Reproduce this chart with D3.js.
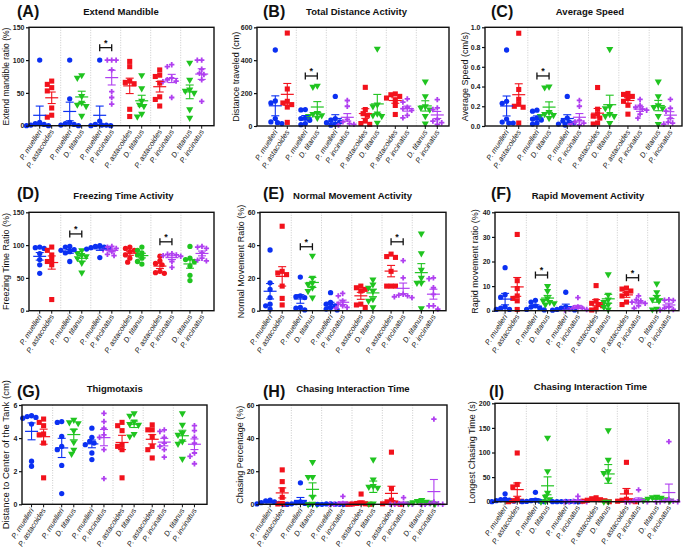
<!DOCTYPE html>
<html>
<head>
<meta charset="utf-8">
<script src="https://cdn.jsdelivr.net/npm/d3@7"></script>
<style>
body { margin: 0; background: #fff; }
svg { display: block; }
text { font-family: "Liberation Sans", Arial, sans-serif; }
</style>
</head>
<body>
<div id="chart"></div>
<script>
var width = 684;
var height = 547;

// six pairwise comparisons, two species each
var groupNames = ["P. muelleri", "P. astacoides", "P. muelleri", "D. titanus", "P. muelleri", "P. incinatus",
	"P. astacoides", "D. titanus", "P. astacoides", "P. incinatus", "D. titanus", "P. incinatus"];

var colors = {"P. muelleri": "#0b30f2", "P. astacoides": "#f2121c", "D. titanus": "#20c420", "P. incinatus": "#b03ff0"};

// values (n = 7)
var extendMandible = [
	[100, 2, 0, 5, 0, 1, 3], [68, 63, 58, 53, 27, 16, 13],
	[100, 41, 5, 3, 2, 0, 1], [77, 73, 45, 35, 32, 30, 15],
	[100, 7, 2, 0, 1, 0, 1], [100, 100, 100, 85, 52, 43, 33],
	[98, 90, 68, 66, 64, 25, 14], [77, 57, 38, 32, 30, 18, 14],
	[85, 77, 75, 65, 44, 40, 30], [93, 90, 73, 70, 68, 67, 43],
	[96, 70, 55, 53, 50, 25, 12], [100, 100, 86, 80, 78, 70, 37]];

var totalDistance = [
	[462, 152, 140, 45, 25, 20, 15], [565, 225, 150, 140, 130, 115, 22],
	[100, 98, 48, 45, 35, 15, 8], [245, 238, 78, 72, 65, 60, 50],
	[180, 45, 35, 25, 20, 10, 5], [155, 120, 40, 25, 15, 10, 5],
	[235, 100, 75, 65, 30, 15, 10], [470, 130, 120, 75, 65, 60, 20],
	[195, 190, 180, 170, 155, 125, 70], [165, 145, 115, 105, 95, 65, 50],
	[270, 180, 120, 110, 100, 60, 15], [160, 110, 100, 40, 30, 20, 10]];

var averageSpeed = [
	[0.77, 0.25, 0.23, 0.07, 0.04, 0.03, 0.03], [0.94, 0.37, 0.27, 0.22, 0.20, 0.19, 0.03],
	[0.16, 0.15, 0.08, 0.07, 0.06, 0.03, 0.02], [0.40, 0.39, 0.14, 0.12, 0.11, 0.10, 0.08],
	[0.30, 0.08, 0.05, 0.04, 0.03, 0.02, 0.01], [0.26, 0.20, 0.06, 0.04, 0.03, 0.02, 0.01],
	[0.39, 0.17, 0.12, 0.10, 0.08, 0.03, 0.02], [0.78, 0.20, 0.18, 0.12, 0.10, 0.10, 0.03],
	[0.33, 0.32, 0.30, 0.28, 0.25, 0.21, 0.12], [0.27, 0.21, 0.19, 0.17, 0.16, 0.12, 0.08],
	[0.45, 0.30, 0.21, 0.19, 0.18, 0.10, 0.02], [0.27, 0.18, 0.15, 0.08, 0.04, 0.03, 0.02]];

var freezingTime = [
	[97, 96, 95, 87, 78, 70, 57], [97, 92, 85, 78, 75, 70, 17],
	[98, 97, 93, 92, 90, 88, 75], [92, 88, 85, 83, 80, 73, 58],
	[99, 98, 97, 96, 95, 94, 81], [98, 97, 95, 93, 90, 86, 84],
	[97, 95, 92, 90, 85, 80, 74], [97, 92, 88, 85, 80, 75, 71],
	[83, 76, 72, 70, 60, 58, 57], [87, 86, 85, 84, 83, 75, 66],
	[98, 80, 78, 75, 68, 54, 46], [98, 97, 95, 88, 80, 77, 76]];

var normalMovement = [
	[37, 17, 13, 8, 4, 3, 1], [51.5, 24, 23, 22, 15, 7.5, 3.5],
	[20.5, 9, 8.5, 8, 2, 1.5, 0.5], [33.5, 20, 17, 16, 14, 12, 8],
	[11, 5, 4, 3, 2, 1, 0.5], [10.5, 9, 6, 4, 3, 2, 1.5],
	[15, 14, 13, 12, 4, 3.5, 2], [19, 16, 14, 12, 7, 6, 2],
	[34.5, 33, 32.5, 24, 15, 15, 15], [30.5, 20, 10, 9.5, 9, 8.5, 8],
	[47, 35, 25, 20, 17, 17, 1.5], [20, 19.5, 14, 10, 3, 3, 1]];

var rapidMovement = [
	[17.5, 6.5, 5.5, 1.5, 1, 0.5, 0.5], [31, 12.2, 9, 6, 5, 4, 0.5],
	[4.2, 3.5, 2, 1.5, 1, 0.5, 0.3], [10, 8, 5, 4, 3.5, 3, 2.5],
	[7.5, 1.5, 1, 0.8, 0.5, 0.3, 0.2], [5.3, 1.5, 1.2, 1, 0.8, 0.5, 0.3],
	[10.2, 4, 3, 2.5, 2, 0.8, 0.3], [14.8, 6.5, 4.5, 3.5, 2.5, 1.5, 0.5],
	[9.2, 8.8, 8, 7, 6, 3.5, 2.5], [6, 4.5, 4, 3.5, 3, 2, 1],
	[11, 7.5, 5.5, 4.5, 4, 0.8, 0.5], [4.5, 4.3, 4.2, 1.5, 1, 0.5, 0.3]];

var thigmotaxis = [
	[5.35, 5.3, 5.25, 5.2, 4.85, 2.6, 2.3], [5.15, 4.95, 4.75, 4.25, 4.2, 3.7, 1.6],
	[5.0, 4.95, 4.1, 3.5, 3.3, 2.35, 0.65], [5.1, 4.95, 4.9, 4.45, 3.75, 3.3, 3.05],
	[4.6, 4.05, 3.8, 3.7, 3.6, 3.1, 2.7], [5.5, 5.0, 4.6, 4.2, 4.05, 3.3, 1.55],
	[4.95, 4.75, 4.45, 3.6, 3.5, 3.3, 1.6], [5.5, 5.35, 5.0, 4.85, 4.8, 4.25, 4.1],
	[4.8, 4.5, 4.5, 4.1, 3.5, 3.3, 2.8], [4.5, 4.4, 4.05, 3.7, 3.5, 3.3, 2.85],
	[5.5, 4.8, 4.3, 4.2, 3.8, 3.65, 2.75], [4.75, 4.45, 4.05, 3.7, 3.1, 2.9, 2.45]];

var chasingPercentage = [
	[2.5, 2, 1.5, 1, 0.5, 0.2, 0], [20.8, 13.7, 8.8, 4.2, 0.5, 0.2, 0],
	[13, 1.5, 1, 0.5, 0.3, 0, 0], [25.5, 16.5, 16.5, 4.5, 0.3, 0, 0],
	[0.3, 0.2, 0.1, 0, 0, 0, 0], [4.8, 0.5, 0.3, 0.2, 0, 0, 0],
	[6.2, 0.8, 0.5, 0.3, 0.2, 0, 0], [27, 15, 11, 10.5, 10, 0.5, 0.3],
	[31.5, 9.5, 2.5, 1.5, 0.8, 0.3, 0], [4, 0.5, 0.3, 0.2, 0, 0, 0],
	[2.5, 2, 1.5, 1.2, 1, 0.5, 0.3], [51.5, 1.5, 0.5, 0.3, 0, 0, 0]];

var longestChasing = [
	[16, 5, 4, 3, 2, 1, 0], [99, 35, 30, 5, 2, 1, 0],
	[19, 3, 2, 1, 0.5, 0, 0], [130, 62, 18, 10, 5, 1, 0],
	[0.5, 0.3, 0.2, 0, 0, 0, 0], [11, 2, 1, 0.5, 0, 0, 0],
	[8, 6, 4, 3, 2, 1, 0], [145, 85, 62, 58, 45, 0, 0],
	[80, 20, 5, 3, 2, 1, 0], [24, 3, 2, 1, 0, 0, 0],
	[10, 9, 8, 6, 5, 3, 2], [122, 5, 2, 1, 0, 0, 0]];

// tick values
var ticks150 = [0, 50, 100, 150];
var ticks600 = [0, 200, 400, 600];
var ticksSpeed = [0, 0.2, 0.4, 0.6, 0.8, 1.0];
var ticks60 = [0, 20, 40, 60];
var ticks40 = [0, 10, 20, 30, 40];
var ticks6 = [0, 2, 4, 6];
var ticks200 = [0, 50, 100, 150, 200];

// significant pairs: [pair index, bracket height]
var starsA = [[2, 119]];
var starsB = [[1, 304]];
var starsC = [[1, 0.507]];
var starsD = [[1, 117], [4, 105]];
var starsE = [[1, 39], [4, 42]];
var starsF = [[1, 14.5], [4, 13.4]];

var panels = [
	{tag: "(A)", title: "Extend Mandible", yLabel: "Extend mandible ratio (%)", values: extendMandible, ticks: ticks150, stars: starsA,
		l: 29, r: 214, t: 27.3, b: 125.7, b0: 30.7, b1: 210.7, tagX: 17, tagY: 17, titleX: 121, titleY: 14.5, ylX: 9, ylSize: 8.5},
	{tag: "(B)", title: "Total Distance Activity", yLabel: "Distance traveled (cm)", values: totalDistance, ticks: ticks600, stars: starsB,
		l: 257, r: 449, t: 27.3, b: 126, b0: 266.3, b1: 446.3, tagX: 263, tagY: 17, titleX: 356.5, titleY: 14.5, ylX: 239, ylSize: 9},
	{tag: "(C)", title: "Average Speed", yLabel: "Average Speed (cm/s)", values: averageSpeed, ticks: ticksSpeed, stars: starsC, fmt: ".1f",
		l: 485, r: 682, t: 27.3, b: 126, b0: 497.5, b1: 679.5, tagX: 491, tagY: 17, titleX: 590, titleY: 14.5, ylX: 468, ylSize: 9},
	{tag: "(D)", title: "Freezing Time Activity", yLabel: "Freezing Time Ratio (%)", values: freezingTime, ticks: ticks150, stars: starsD, roundFrom: 3,
		l: 29, r: 214, t: 212.3, b: 310.7, b0: 30.7, b1: 211, tagX: 17, tagY: 199, titleX: 123.5, titleY: 198.5, ylX: 9, ylSize: 9},
	{tag: "(E)", title: "Normal Movement Activity", yLabel: "Normal Movement Ratio (%)", values: normalMovement, ticks: ticks60, stars: starsE,
		l: 260, r: 446, t: 212.3, b: 310.7, b0: 261, b1: 442.5, tagX: 263, tagY: 199, titleX: 352.5, titleY: 198.5, ylX: 244, ylSize: 9},
	{tag: "(F)", title: "Rapid Movement Activity", yLabel: "Rapid movement ratio (%)", values: rapidMovement, ticks: ticks40, stars: starsF,
		l: 495, r: 679, t: 212.3, b: 310.7, b0: 496, b1: 678, tagX: 491, tagY: 199, titleX: 588, titleY: 198.5, ylX: 478, ylSize: 9},
	{tag: "(G)", title: "Thigmotaxis", yLabel: "Distance to Center of the Tank (cm)", values: thigmotaxis, ticks: ticks6, stars: [],
		l: 22, r: 207, t: 405, b: 504.3, b0: 22.5, b1: 203.5, tagX: 17, tagY: 397, titleX: 114.7, titleY: 391.7, ylX: 9, ylSize: 9.5},
	{tag: "(H)", title: "Chasing Interaction Time", yLabel: "Chasing Percentage (%)", values: chasingPercentage, ticks: ticks60, stars: [],
		l: 259, r: 447, t: 405, b: 504.3, b0: 261, b1: 443, tagX: 263, tagY: 397, titleX: 353, titleY: 392, ylX: 243, ylSize: 9},
	{tag: "(I)", title: "Chasing Interaction Time", yLabel: "Longest Chasing Time (s)", values: longestChasing, ticks: ticks200, stars: [],
		l: 495, r: 679, t: 403.3, b: 501.7, b0: 496, b1: 678, tagX: 489, tagY: 397, titleX: 590.5, titleY: 390, ylX: 475, ylSize: 9}
];

var svg = d3.select("#chart")
	.append("svg")
	.attr("width", width)
	.attr("height", height);

svg.append("rect")
	.attr("width", width)
	.attr("height", height)
	.attr("fill", "#fff");

function symbolFor(name, pairIndex, panel) {
	if (panel.roundFrom !== undefined && pairIndex >= panel.roundFrom && name !== "P. incinatus") return d3.symbol(d3.symbolCircle, 22);
	if (name == "P. muelleri") return d3.symbol(d3.symbolCircle, 22);
	if (name == "P. astacoides") return d3.symbol(d3.symbolSquare, 26);
	if (name == "D. titanus") return d3.symbol(d3.symbolTriangle, 22);
	return d3.symbol(d3.symbolCross, 16);
}

// spread overlapping points sideways, nearest slot first
function dodge(vals, y) {
	var step = 2.2, minDist = 4.2;
	var pts = vals.map(function(v) { return {v: v, py: y(v), px: 0}; })
		.sort(function(a, b) { return a.py - b.py; });
	var placed = [];
	pts.forEach(function(p) {
		for (var k = 0; k < 30; k++) {
			var off = k == 0 ? 0 : (k % 2 ? -1 : 1) * Math.ceil(k / 2) * step;
			var ok = placed.every(function(q) { return Math.hypot(q.px - off, q.py - p.py) >= minDist; });
			if (ok) { p.px = off; break; }
		}
		placed.push(p);
	});
	return placed;
}

panels.forEach(function(p) {
	var g = svg.append("g");

	var y = d3.scaleLinear()
		.domain([0, d3.max(p.ticks)])
		.range([p.b, p.t]);

	var pairX = d3.scaleBand()
		.domain(d3.range(6))
		.range([p.b0, p.b1]);

	function groupX(i) {
		var pi = Math.floor(i / 2);
		return pairX(pi) + pairX.bandwidth() * (i % 2 ? 0.7 : 0.3);
	}

	// dotted separators between comparisons
	for (var s = 1; s < 6; s++) {
		g.append("line")
			.attr("x1", pairX(s)).attr("x2", pairX(s))
			.attr("y1", p.t).attr("y2", p.b)
			.attr("stroke", "#bdbdbd")
			.attr("stroke-width", 0.8)
			.attr("stroke-dasharray", "1,1.5");
	}

	// points
	p.values.forEach(function(vals, i) {
		var name = groupNames[i];
		var pi = Math.floor(i / 2);
		var sym = symbolFor(name, pi, p);
		var isTri = name == "D. titanus" && !(p.roundFrom !== undefined && pi >= p.roundFrom);
		var cx = groupX(i);
		g.selectAll(null)
			.data(dodge(vals, y))
			.enter()
			.append("path")
			.attr("d", sym)
			.attr("transform", function(d) {
				return "translate(" + (cx + d.px) + "," + d.py + ")" + (isTri ? " rotate(180)" : "");
			})
			.attr("fill", colors[name]);
	});

	// mean and SEM
	p.values.forEach(function(vals, i) {
		var name = groupNames[i];
		var cx = groupX(i);
		var m = d3.mean(vals);
		var sem = d3.deviation(vals) / Math.sqrt(vals.length);
		var lo = Math.max(0, m - sem), hi = m + sem;
		var c = colors[name];
		g.append("line").attr("x1", cx).attr("x2", cx).attr("y1", y(lo)).attr("y2", y(hi))
			.attr("stroke", c).attr("stroke-width", 1.1);
		[lo, hi].forEach(function(v) {
			g.append("line").attr("x1", cx - 4).attr("x2", cx + 4).attr("y1", y(v)).attr("y2", y(v))
				.attr("stroke", c).attr("stroke-width", 1.1);
		});
		g.append("line").attr("x1", cx - 6.5).attr("x2", cx + 6.5).attr("y1", y(m)).attr("y2", y(m))
			.attr("stroke", c).attr("stroke-width", 1.2);
	});

	// frame
	g.append("rect")
		.attr("x", p.l).attr("y", p.t)
		.attr("width", p.r - p.l).attr("height", p.b - p.t)
		.attr("fill", "none")
		.attr("stroke", "#111")
		.attr("stroke-width", 1.4);

	// y axis
	var yAxis = d3.axisLeft(y)
		.tickValues(p.ticks)
		.tickSize(3)
		.tickPadding(1.5)
		.tickFormat(d3.format(p.fmt || "d"));
	var ya = g.append("g")
		.attr("transform", "translate(" + p.l + ",0)")
		.call(yAxis);
	ya.select(".domain").remove();
	ya.selectAll("line").attr("stroke", "#111").attr("stroke-width", 1.2);
	ya.selectAll("text")
		.attr("font-size", 7)
		.attr("font-weight", "bold")
		.attr("font-family", "Liberation Sans, Arial, sans-serif")
		.attr("fill", "#222");

	// x ticks and species labels
	groupNames.forEach(function(name, i) {
		var cx = groupX(i);
		g.append("line").attr("x1", cx).attr("x2", cx).attr("y1", p.b).attr("y2", p.b + 3)
			.attr("stroke", "#111").attr("stroke-width", 1);
		g.append("text")
			.attr("transform", "translate(" + (cx + 2.5) + "," + (p.b + 6) + ") rotate(-57)")
			.attr("text-anchor", "end")
			.attr("font-size", 7.5)
			.attr("font-style", "italic")
			.attr("fill", "#222")
			.text(name);
	});

	// significance brackets
	p.stars.forEach(function(st) {
		var x1 = groupX(st[0] * 2), x2 = groupX(st[0] * 2 + 1), yy = y(st[1]);
		g.append("line").attr("x1", x1).attr("x2", x2).attr("y1", yy).attr("y2", yy)
			.attr("stroke", "#111").attr("stroke-width", 1.3);
		[x1, x2].forEach(function(xx) {
			g.append("line").attr("x1", xx).attr("x2", xx).attr("y1", yy - 3.5).attr("y2", yy + 3.5)
				.attr("stroke", "#111").attr("stroke-width", 1.3);
		});
		g.append("text")
			.attr("x", (x1 + x2) / 2).attr("y", yy - 2)
			.attr("text-anchor", "middle")
			.attr("font-size", 9)
			.attr("font-weight", "bold")
			.attr("fill", "#111")
			.text("*");
	});

	// y title
	g.append("text")
		.attr("transform", "translate(" + p.ylX + "," + ((p.t + p.b) / 2) + ") rotate(-90)")
		.attr("text-anchor", "middle")
		.attr("font-size", p.ylSize)
		.attr("fill", "#111")
		.text(p.yLabel);

	// panel tag and title
	g.append("text")
		.attr("x", p.tagX).attr("y", p.tagY)
		.attr("font-size", 16)
		.attr("font-weight", "bold")
		.attr("font-family", "Noto Sans, Liberation Sans, sans-serif")
		.attr("fill", "#111")
		.text(p.tag);
	g.append("text")
		.attr("x", p.titleX).attr("y", p.titleY)
		.attr("text-anchor", "middle")
		.attr("font-size", 9.5)
		.attr("font-weight", "bold")
		.attr("fill", "#111")
		.text(p.title);
});
</script>
</body>
</html>
